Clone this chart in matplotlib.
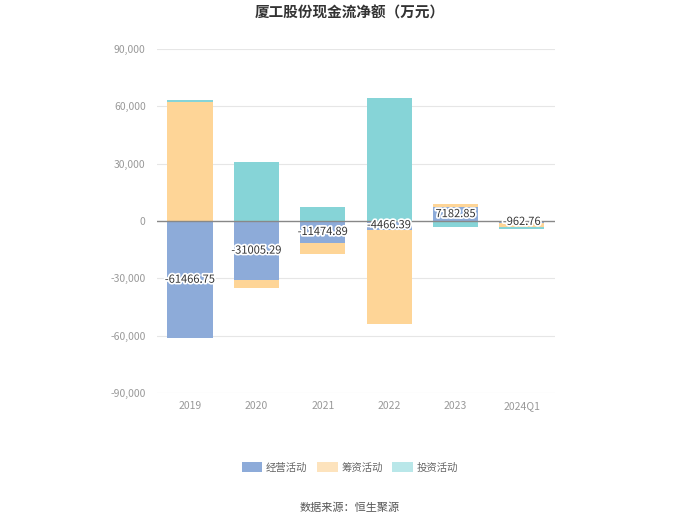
import matplotlib
matplotlib.use('Agg')
import matplotlib.pyplot as plt
import matplotlib.patheffects as pe
from matplotlib.patches import Patch
import numpy as np

plt.rcParams['font.family'] = ['Noto Sans CJK SC', 'DejaVu Sans']
plt.rcParams['axes.unicode_minus'] = False

# 数据（万元）
years = ['2019', '2020', '2021', '2022', '2023', '2024Q1']
operating = [-61466.75, -31005.29, -11474.89, -4466.39, 7182.85, -962.76]
financing = [62000, -3900, -5900, -49600, 1700, -2100]
investing = [1300, 31000, 7200, 64200, -3000, -1100]

names = ['经营活动', '筹资活动', '投资活动']
colors = ['#8dabd9', '#fed597', '#86d4d7']
legend_colors = ['#8dabd9', '#fde3bd', '#b9e7e9']

fig = plt.figure(figsize=(7, 5.25), dpi=100)
ax = fig.add_axes([0.224, 0.2514, 0.569, 0.6553])

x = np.arange(len(years))
pos_base = np.zeros(len(years))
neg_base = np.zeros(len(years))
for series, c in zip([operating, financing, investing], colors):
    vals = np.array(series, dtype=float)
    base = np.where(vals >= 0, pos_base, neg_base)
    ax.bar(x, vals, bottom=base, width=0.68, color=c, zorder=2)
    pos_base = pos_base + np.where(vals >= 0, vals, 0)
    neg_base = neg_base + np.where(vals < 0, vals, 0)

# 经营活动数值标签
for i, v in enumerate(operating):
    ax.text(x[i], v / 2, f'{v:.2f}', ha='center', va='center', fontsize=8,
            color='#333333', zorder=4,
            path_effects=[pe.withStroke(linewidth=2.5, foreground='white')])

ax.set_xlim(-0.5, len(years) - 0.5)
ax.set_ylim(-90000, 90000)
ticks = np.arange(-90000, 90001, 30000)
ax.set_yticks(ticks)
ax.set_yticklabels([f'{t:,}' for t in ticks])
ax.set_xticks(x)
ax.set_xticklabels(years)
ax.tick_params(axis='both', colors='#999999', labelsize=7.5, length=0)
ax.tick_params(axis='y', pad=8)
ax.tick_params(axis='x', pad=6)
for t in ticks:
    if t != 0:
        ax.axhline(t, color='#e6e6e6', linewidth=0.8, zorder=1)
ax.axhline(0, color='#888888', linewidth=1, zorder=3)
for s in ax.spines.values():
    s.set_visible(False)

fig.text(0.5, 0.977, '厦工股份现金流净额（万元）', ha='center', va='center',
         fontsize=10.5, fontweight='bold', color='#333333')

handles = [Patch(facecolor=c, edgecolor='none') for c in legend_colors]
leg = fig.legend(handles, names, loc='center', bbox_to_anchor=(0.5, 0.11),
                 ncol=3, frameon=False, fontsize=7.5, handlelength=2.0,
                 handleheight=1.1, columnspacing=0.9, handletextpad=0.35)
for txt in leg.get_texts():
    txt.set_color('#666666')

fig.text(0.5, 0.032, '数据来源：恒生聚源', ha='center', va='center',
         fontsize=8, color='#555555')

fig.savefig('out.png', dpi=100)
